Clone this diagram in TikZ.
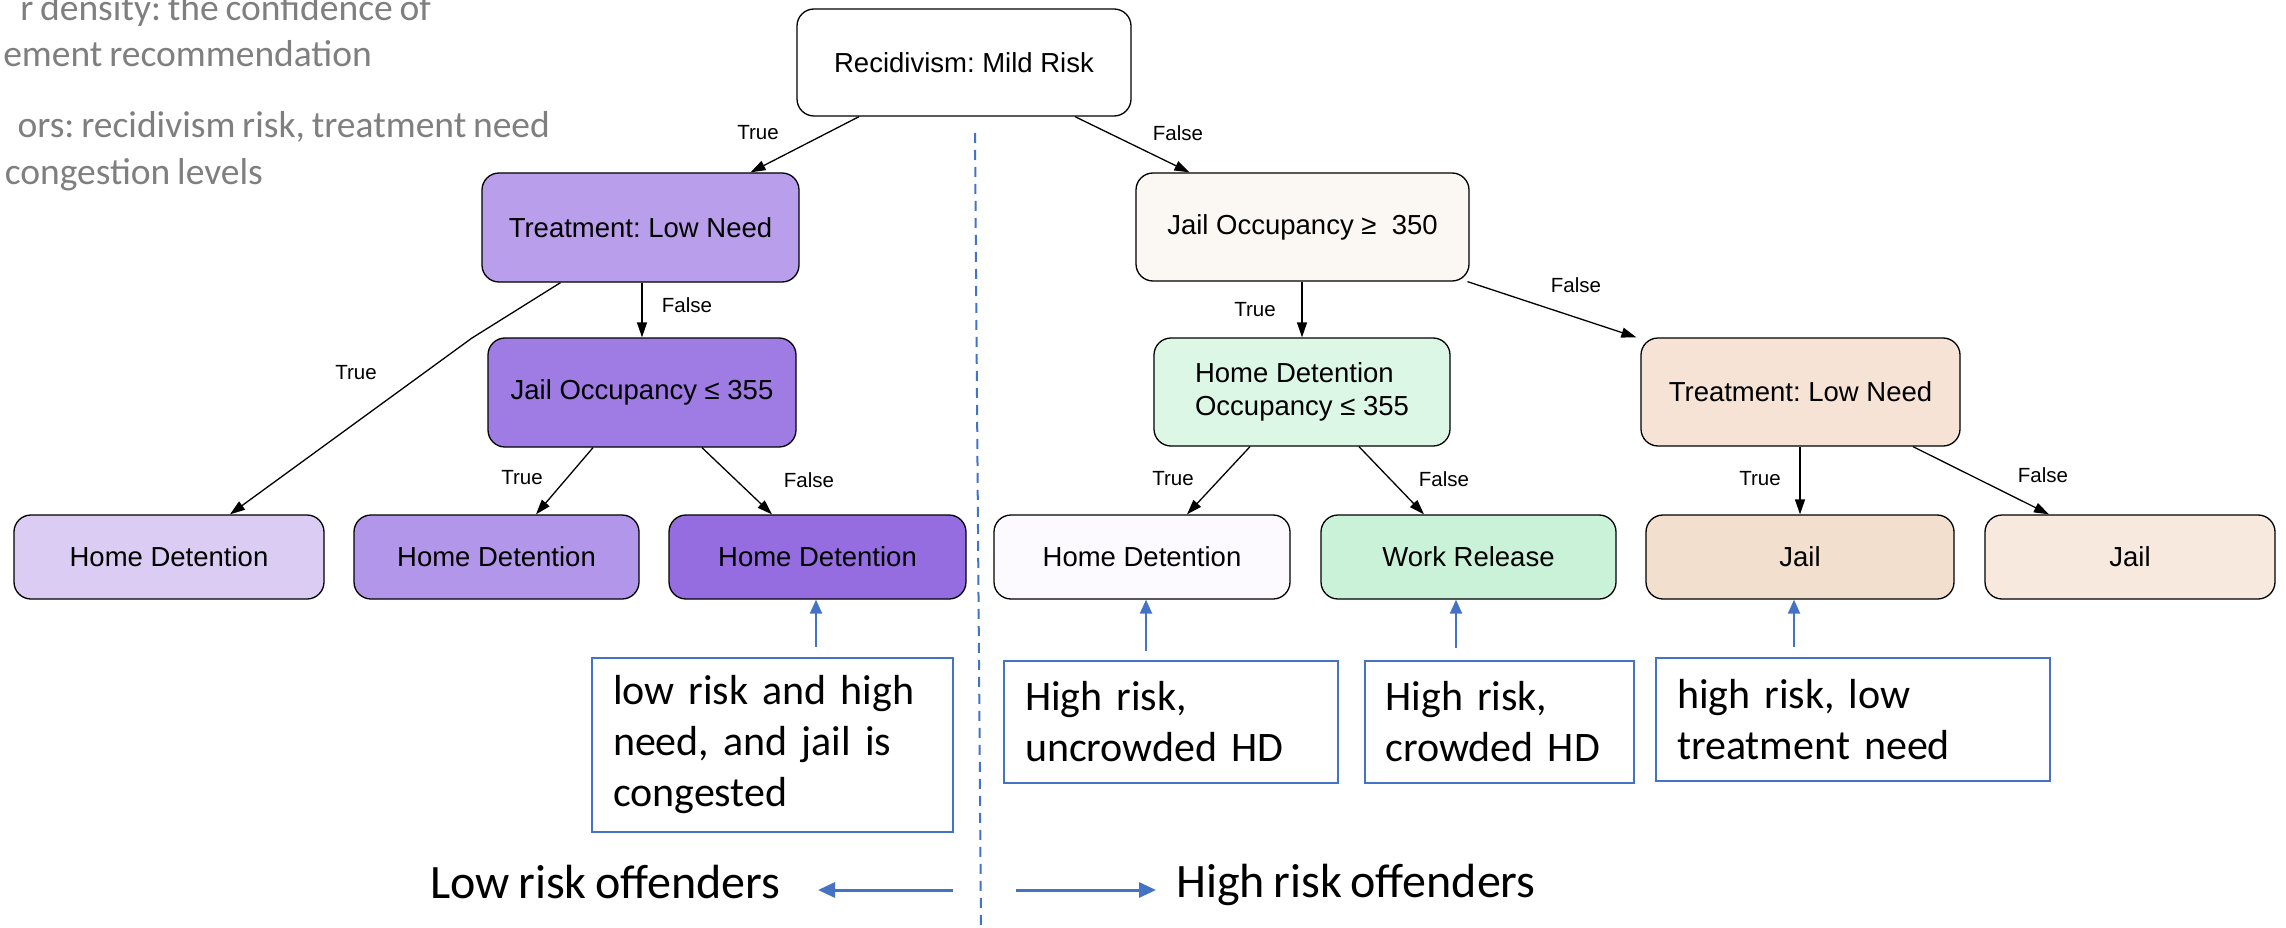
\documentclass[tikz,border=0pt]{standalone}
\usepackage{fontspec}
\setmainfont{Liberation Sans}
\newfontfamily\calibrifont[WordSpace=0.8]{Carlito}
\usetikzlibrary{arrows.meta,calc}
\frenchspacing

% palette
\definecolor{noteblue}{HTML}{4472C4}
\definecolor{greytext}{HTML}{7F7F7F}
\definecolor{cRoot}{HTML}{FFFFFF}
\definecolor{pTreat}{HTML}{B99EEB}
\definecolor{pJail}{HTML}{9F7CE3}
\definecolor{pLeafA}{HTML}{DBCCF4}
\definecolor{pLeafB}{HTML}{B196E9}
\definecolor{pLeafC}{HTML}{956DE0}
\definecolor{rJail}{HTML}{FBF8F3}
\definecolor{gHome}{HTML}{DDF7E7}
\definecolor{oTreat}{HTML}{F6E3D5}
\definecolor{wHome}{HTML}{FCFAFE}
\definecolor{gWork}{HTML}{C9F2D9}
\definecolor{oJailA}{HTML}{F3DFCD}
\definecolor{oJailB}{HTML}{F7E9DE}

\tikzset{
  dnode/.style={draw=black, line width=1.3pt, rounded corners=17pt, inner sep=0pt,
    font=\fontsize{27.5}{33}\selectfont, text=black},
  link/.style={draw=black, line width=1.3pt, -{Triangle[length=15pt,width=10pt]}},
  blab/.style={font=\fontsize{20.5}{24}\selectfont, inner sep=0pt},
  notebox/.style={draw=noteblue, line width=2pt, inner sep=0pt, align=left,
    font=\calibrifont\fontsize{42}{51}\selectfont},
  noteptr/.style={draw=noteblue, line width=2.2pt, -{Triangle[length=14pt,width=12pt]}},
  sidearrow/.style={draw=noteblue, line width=3pt, -{Triangle[length=17pt,width=15pt]}},
  greytxt/.style={font=\calibrifont\fontsize{37.5}{46}\selectfont, text=greytext,
    inner sep=0pt, anchor=base east},
  bigtxt/.style={font=\calibrifont\fontsize{48}{56}\selectfont, inner sep=0pt, anchor=base west},
}

\begin{document}
\begin{tikzpicture}[x=1pt,y=-1pt]
\useasboundingbox[fill=white] (0,0) rectangle (2286,928);

% legend text in the upper left corner
\node[greytxt] (g1) at (431,21)  {r density: the confidence of};
\node[greytxt] (g2) at (372,67)  {ement recommendation};
\node[greytxt] (g3) at (550,138) {ors: recidivism risk, treatment need};
\node[greytxt] (g4) at (263,185) {congestion levels};

% divider between the two groups
\coordinate (divtop) at (975,133);
\coordinate (divbot) at (981,928);
\draw[noteblue, line width=2pt, dash pattern=on 10pt off 7pt] (divtop) -- (divbot);

% decision tree
\node[dnode, fill=cRoot, minimum width=334, minimum height=107] (root) at (964,62.5) {Recidivism: Mild Risk};

\node[dnode, fill=pTreat, minimum width=317, minimum height=109] (tL) at (640.5,227.5) {Treatment: Low Need};
\node[dnode, fill=pJail, minimum width=308, minimum height=109] (jL) at (642,392.5) {Jail Occupancy ≤ 355};
\node[dnode, fill=pLeafA, minimum width=310, minimum height=84] (hd1) at (169,557) {Home Detention};
\node[dnode, fill=pLeafB, minimum width=285, minimum height=84] (hd2) at (496.5,557) {Home Detention};
\node[dnode, fill=pLeafC, minimum width=297, minimum height=84] (hd3) at (817.5,557) {Home Detention};

\node[dnode, fill=rJail, minimum width=333, minimum height=108] (jR) at (1302.5,227) {Jail Occupancy ≥~ 350};
\node[dnode, fill=gHome, minimum width=296, minimum height=108, align=left] (hR) at (1302,392) {Home Detention\\Occupancy ≤ 355};
\node[dnode, fill=oTreat, minimum width=319, minimum height=108] (tR) at (1800.5,392) {Treatment: Low Need};
\node[dnode, fill=wHome, minimum width=296, minimum height=84] (hdw) at (1142,557) {Home Detention};
\node[dnode, fill=gWork, minimum width=295, minimum height=84] (wr) at (1468.5,557) {Work Release};
\node[dnode, fill=oJailA, minimum width=308, minimum height=84] (j1) at (1800,557) {Jail};
\node[dnode, fill=oJailB, minimum width=290, minimum height=84] (j2) at (2130,557) {Jail};

% branches
\coordinate (bend1) at (472,338);
\draw[link] ([xshift=-105pt]root.south) -- ([xshift=110pt]tL.north);
\draw[link] ([xshift=111pt]root.south) -- ([xshift=-113pt]jR.north);
\draw[link] ([xshift=-80pt]tL.south) -- (bend1) -- ([xshift=61pt]hd1.north);
\draw[link] (jL.north |- tL.south) -- (jL.north);
\draw[link] ([xshift=-49pt]jL.south) -- ([xshift=39.5pt]hd2.north);
\draw[link] ([xshift=60pt]jL.south) -- ([xshift=-45.5pt]hd3.north);
\draw[link] (hR.north |- jR.south) -- (hR.north);
\draw[link] ([xshift=165pt]jR.south) -- ([xshift=-4pt]tR.north west);
\draw[link] ([xshift=-52pt]hR.south) -- ([xshift=45pt]hdw.north);
\draw[link] ([xshift=57pt]hR.south) -- ([xshift=-44.5pt]wr.north);
\draw[link] (j1.north |- tR.south) -- (j1.north);
\draw[link] ([xshift=112.5pt]tR.south) -- ([xshift=-81pt]j2.north);

% branch labels
\node[blab] (b1) at (758,133) {True};
\node[blab] (b2) at (1178,133) {False};
\node[blab] (b3) at (356,373) {True};
\node[blab] (b4) at (687,305) {False};
\node[blab] (b5) at (522,478) {True};
\node[blab] (b6) at (809,480) {False};
\node[blab] (b7) at (1255,310) {True};
\node[blab] (b8) at (1576,285) {False};
\node[blab] (b9) at (1173,479) {True};
\node[blab] (b10) at (1444,479) {False};
\node[blab] (b11) at (1760,479) {True};
\node[blab] (b12) at (2043,475) {False};

% explanatory notes
\node[notebox, minimum width=361, minimum height=174, text width=319] (nA) at (772.5,745)
  {low risk and high\\need, and jail is\\congested};
\node[notebox, minimum width=334, minimum height=122, text width=292] (nB) at (1171,722)
  {High risk,\\uncrowded HD};
\node[notebox, minimum width=269, minimum height=122, text width=228] (nC) at (1499.5,722)
  {High risk,\\crowded HD};
\node[notebox, minimum width=394, minimum height=123, text width=352] (nD) at (1853,719.5)
  {high risk, low\\treatment need};

\draw[noteptr] ($(nA.north -| hd3.south)+(-1.5,-10)$) -- ([xshift=-1.5pt]hd3.south);
\draw[noteptr] ($(nB.north -| hdw.south)+(4,-9)$) -- ([xshift=4pt]hdw.south);
\draw[noteptr] ($(nC.north -| wr.south)+(-12.5,-12)$) -- ([xshift=-12.5pt]wr.south);
\draw[noteptr] ($(nD.north -| j1.south)+(-6,-10)$) -- ([xshift=-6pt]j1.south);

% group captions
\node[bigtxt] (lowlbl) at (430,898) {Low risk offenders};
\node[bigtxt] (highlbl) at (1176,897) {High risk offenders};
\coordinate (lowstart) at (953,890);
\coordinate (lowend) at (818,890);
\coordinate (highstart) at (1016,890);
\coordinate (highend) at (1156,890);
\draw[sidearrow] (lowstart) -- (lowend);
\draw[sidearrow] (highstart) -- (highend);
\end{tikzpicture}
\end{document}
